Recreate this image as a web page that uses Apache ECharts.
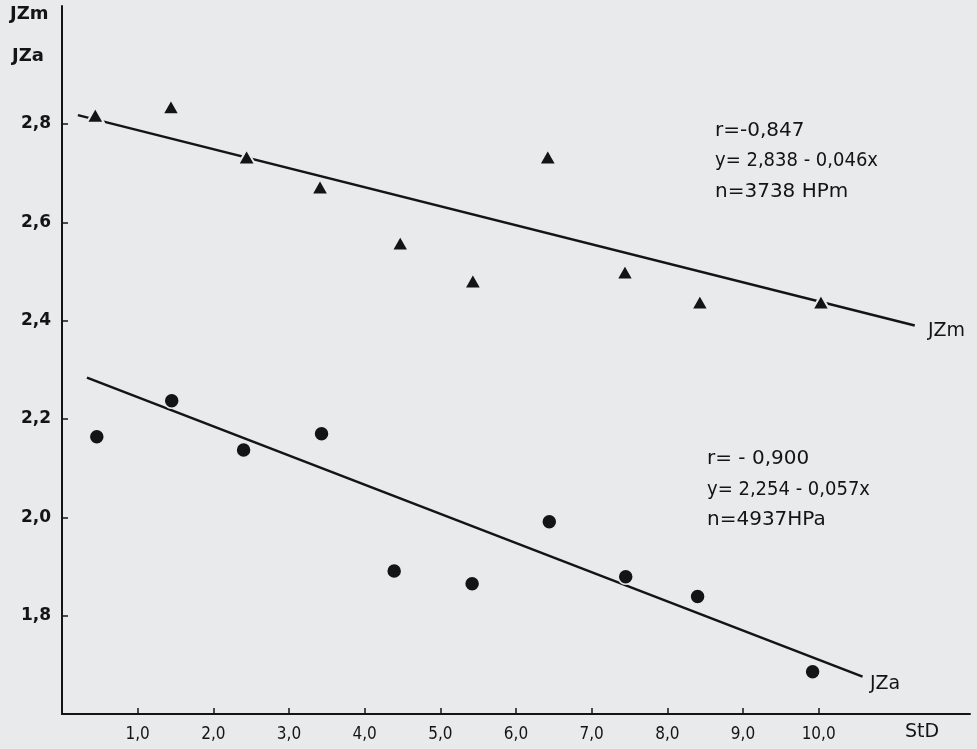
<!DOCTYPE html>
<html><head><meta charset="utf-8">
<script src="https://cdn.jsdelivr.net/npm/echarts@6/dist/echarts.min.js"></script>
<style>html,body{margin:0;padding:0;background:#e9eaec}#c{width:977px;height:749px}</style>
</head><body><div id="c"></div>
<script>
// Data
const xTicks = [1,2,3,4,5,6,7,8,9,10];
const yTicks = [1.8,2.0,2.2,2.4,2.6,2.8];
const jzmX = [0.44,1.44,2.44,3.41,4.47,5.43,6.42,7.44,8.43,10.03];
const jzmY = [2.818,2.835,2.733,2.672,2.558,2.481,2.733,2.499,2.438,2.438];
const jzaX = [0.46,1.45,2.40,3.43,4.39,5.42,6.44,7.45,8.40,9.92];
const jzaY = [2.164,2.237,2.137,2.170,1.891,1.865,1.991,1.879,1.839,1.686];
const jzmLineX = [0.21,11.27];
const jzmLineY = [2.818,2.390];
const jzaLineX = [0.33,10.58];
const jzaLineY = [2.284,1.676];

const fmt = v => v.toFixed(1).replace('.', ',');
const zip = (a,b) => a.map((v,i)=>[v,b[i]]);
const bg = '#e9eaec';
const ink = '#141414';

const chart = echarts.init(document.getElementById('c'));
chart.setOption({
  backgroundColor: bg,
  animation: false,
  grid: {left: 62, right: 7, top: 6, bottom: 35},
  xAxis: {
    type: 'value', min: 0, max: 12,
    axisLine: {show: true, lineStyle: {color: ink, width: 2}},
    axisTick: {show: true, inside: true, length: 6, lineStyle: {color: ink, width: 1.5}, customValues: xTicks},
    axisLabel: {color: ink, fontFamily: 'DejaVu Sans Condensed', fontSize: 17, margin: 12,
      customValues: xTicks, formatter: v => fmt(v)},
    splitLine: {show: false}
  },
  yAxis: {
    type: 'value', min: 1.6, max: 3.04,
    axisLine: {show: true, lineStyle: {color: ink, width: 2}},
    axisTick: {show: true, inside: true, length: 6, lineStyle: {color: ink, width: 1.5}, customValues: yTicks},
    axisLabel: {color: ink, fontFamily: 'DejaVu Sans', fontWeight: 'bold', fontSize: 17, margin: 11,
      customValues: yTicks, formatter: v => fmt(v)},
    splitLine: {show: false}
  },
  series: [
    {type: 'line', data: zip(jzmLineX, jzmLineY), symbol: 'none', lineStyle: {color: ink, width: 2.5}, z: 2},
    {type: 'line', data: zip(jzaLineX, jzaLineY), symbol: 'none', lineStyle: {color: ink, width: 2.5}, z: 2},
    {type: 'scatter', data: zip(jzmX, jzmY), symbol: 'triangle', symbolSize: [17,15],
      itemStyle: {color: ink, opacity: 1, borderColor: bg, borderWidth: 2}, z: 3},
    {type: 'scatter', data: zip(jzaX, jzaY), symbol: 'circle', symbolSize: 15,
      itemStyle: {color: ink, opacity: 1, borderColor: bg, borderWidth: 1.5}, z: 3}
  ],
  graphic: [
    {type: 'text', left: 10, top: 5, style: {text: 'JZm', font: 'bold 18px "DejaVu Sans"', fill: ink}},
    {type: 'text', left: 12, top: 47, style: {text: 'JZa', font: 'bold 18px "DejaVu Sans"', fill: ink}},
    {type: 'text', left: 905, top: 723, style: {text: 'StD', font: '19px "DejaVu Sans"', fill: ink}},
    {type: 'text', left: 928, top: 322, style: {text: 'JZm', font: '19px "DejaVu Sans"', fill: ink}},
    {type: 'text', left: 870, top: 675, style: {text: 'JZa', font: '19px "DejaVu Sans"', fill: ink}},
    {type: 'text', left: 715, top: 121, style: {text: 'r=-0,847', font: '20px "DejaVu Sans"', fill: ink}},
    {type: 'text', left: 715, top: 151, style: {text: 'y= 2,838 - 0,046x', font: '20px "DejaVu Sans Condensed"', fill: ink}},
    {type: 'text', left: 715, top: 182, style: {text: 'n=3738 HPm', font: '20px "DejaVu Sans"', fill: ink}},
    {type: 'text', left: 707, top: 449, style: {text: 'r= - 0,900', font: '20px "DejaVu Sans"', fill: ink}},
    {type: 'text', left: 707, top: 480, style: {text: 'y= 2,254 - 0,057x', font: '20px "DejaVu Sans Condensed"', fill: ink}},
    {type: 'text', left: 707, top: 510, style: {text: 'n=4937HPa', font: '20px "DejaVu Sans"', fill: ink}}
  ]
});
</script></body></html>
